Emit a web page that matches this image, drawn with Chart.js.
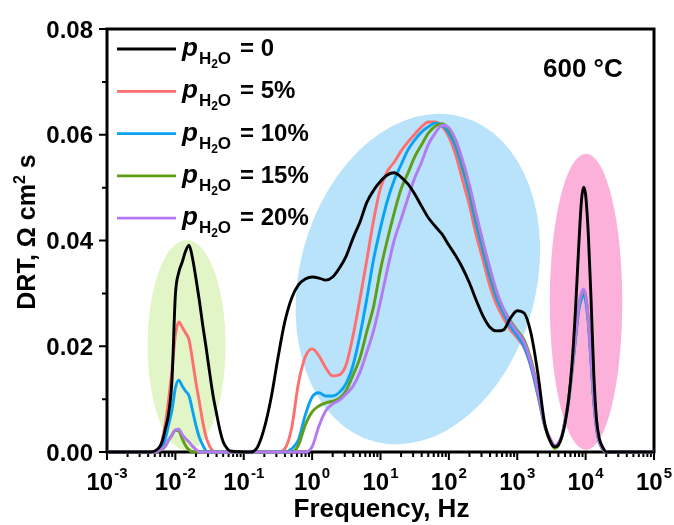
<!DOCTYPE html>
<html>
<head>
<meta charset="utf-8">
<script src="https://cdn.jsdelivr.net/npm/chart.js@4/dist/chart.umd.min.js"></script>
<style>
  html, body { margin: 0; padding: 0; background: #fff; }
  #wrap { width: 674px; height: 525px; }
</style>
</head>
<body>
<div id="wrap"><canvas id="c" width="674" height="525"></canvas></div>
<script>
// log10 of frequency (Hz) for every sample of the DRT curves
const logFreq = [
  -3, -2.4,
  -2.3, -2.2, -2.15, -2.1, -2.05, -2.0, -1.95, -1.9, -1.85, -1.8, -1.75, -1.7, -1.65, -1.6, -1.55, -1.5, -1.45, -1.4, -1.35, -1.3, -1.25, -1.2,
  -0.9, -0.8, -0.7, -0.6, -0.5, -0.4, -0.3, -0.2, -0.1,
  0, 0.1, 0.2, 0.3, 0.4, 0.5, 0.6, 0.7, 0.8, 0.9, 1.0, 1.1, 1.2, 1.3, 1.4, 1.5, 1.6, 1.7, 1.8, 1.9,
  2.0, 2.1, 2.2, 2.3, 2.4, 2.5, 2.6, 2.7, 2.8, 2.9, 3.0, 3.1, 3.2, 3.3, 3.4, 3.5,
  3.55, 3.6, 3.65, 3.7, 3.75, 3.8, 3.85, 3.9, 3.94, 3.97, 4.0, 4.04, 4.08, 4.12, 4.16, 4.2, 4.25, 4.3, 5
];

// DRT (Ω cm² s) at 600 °C for each water partial pressure
const drtH2O0 = [
  0, 0,
  0.0002, 0.0017, 0.0042, 0.0072, 0.0135, 0.0297, 0.0340, 0.0359, 0.0380, 0.0391, 0.0367, 0.0329, 0.0287, 0.0240, 0.0197, 0.0151, 0.0108, 0.0074, 0.0042, 0.0019, 0.0008, 0.0002,
  0, 0.0009, 0.0045, 0.0102, 0.0178, 0.0246, 0.0291, 0.0316, 0.0327,
  0.0331, 0.0329, 0.0325, 0.0331, 0.0348, 0.0371, 0.0405, 0.0435, 0.0472, 0.0495, 0.0512, 0.0524, 0.0528, 0.0520, 0.0507, 0.0488, 0.0465, 0.0443, 0.0427, 0.0412,
  0.0391, 0.0371, 0.0348, 0.0320, 0.0287, 0.0257, 0.0236, 0.0229, 0.0231, 0.0253, 0.0267, 0.0263, 0.0225, 0.0150, 0.0055, 0.0016,
  0.0010, 0.0013, 0.0028, 0.0055, 0.0098, 0.0165, 0.0265, 0.0391, 0.0477, 0.0501, 0.0486, 0.0410, 0.0287, 0.0146, 0.0061, 0.0026, 0.0009, 0, 0
];
const drtH2O5 = [
  0, 0,
  0, 0.0019, 0.0051, 0.0098, 0.0155, 0.0221, 0.0246, 0.0236, 0.0225, 0.0212, 0.0174, 0.0132, 0.0095, 0.0057, 0.0028, 0.0011, 0.0002, 0, 0, 0, 0, 0,
  0, 0, 0, 0, 0, 0.0006, 0.0045, 0.0130, 0.0180,
  0.0195, 0.0182, 0.0159, 0.0144, 0.0146, 0.0166, 0.0221, 0.0290, 0.0363, 0.0439, 0.0499, 0.0531, 0.0548, 0.0569, 0.0586, 0.0601, 0.0615, 0.0624, 0.0624, 0.0616,
  0.0596, 0.0562, 0.0514, 0.0467, 0.0410, 0.0363, 0.0314, 0.0278, 0.0253, 0.0231, 0.0216, 0.0197, 0.0161, 0.0108, 0.0051, 0.0020,
  0.0012, 0.0016, 0.0030, 0.0061, 0.0098, 0.0155, 0.0215, 0.0274, 0.0296, 0.0302, 0.0291, 0.0247, 0.0172, 0.0097, 0.0045, 0.0019, 0.0006, 0, 0
];
const drtH2O10 = [
  0, 0,
  0, 0.0009, 0.0023, 0.0051, 0.0079, 0.0121, 0.0136, 0.0125, 0.0115, 0.0106, 0.0079, 0.0051, 0.0028, 0.0013, 0.0002, 0, 0, 0, 0, 0, 0, 0,
  0, 0, 0, 0, 0, 0, 0.0006, 0.0023, 0.0070,
  0.0104, 0.0112, 0.0106, 0.0106, 0.0113, 0.0130, 0.0165, 0.0221, 0.0290, 0.0365, 0.0424, 0.0475, 0.0514, 0.0543, 0.0571, 0.0590, 0.0605, 0.0615, 0.0622, 0.0618,
  0.0603, 0.0577, 0.0535, 0.0487, 0.0430, 0.0380, 0.0331, 0.0290, 0.0262, 0.0238, 0.0220, 0.0200, 0.0163, 0.0110, 0.0050, 0.0018,
  0.0010, 0.0014, 0.0028, 0.0058, 0.0095, 0.0150, 0.0210, 0.0268, 0.0290, 0.0296, 0.0286, 0.0242, 0.0168, 0.0094, 0.0043, 0.0018, 0.0006, 0, 0
];
const drtH2O15 = [
  0, 0,
  0, 0.0005, 0.0010, 0.0022, 0.0032, 0.0041, 0.0040, 0.0025, 0.0012, 0.0004, 0, 0, 0, 0, 0, 0, 0, 0, 0, 0, 0, 0,
  0, 0, 0, 0, 0, 0, 0, 0.0013, 0.0051,
  0.0076, 0.0087, 0.0093, 0.0096, 0.0102, 0.0117, 0.0146, 0.0178, 0.0228, 0.0276, 0.0345, 0.0401, 0.0452, 0.0497, 0.0527, 0.0558, 0.0581, 0.0603, 0.0616, 0.0621,
  0.0610, 0.0588, 0.0548, 0.0500, 0.0445, 0.0393, 0.0344, 0.0300, 0.0270, 0.0248, 0.0230, 0.0212, 0.0175, 0.0120, 0.0050, 0.0015,
  0.0007, 0.0012, 0.0027, 0.0060, 0.0097, 0.0154, 0.0216, 0.0276, 0.0299, 0.0305, 0.0294, 0.0249, 0.0173, 0.0097, 0.0045, 0.0019, 0.0006, 0, 0
];
const drtH2O20 = [
  0, 0,
  0, 0.0006, 0.0011, 0.0023, 0.0032, 0.0042, 0.0043, 0.0033, 0.0025, 0.0019, 0.0011, 0.0005, 0, 0, 0, 0, 0, 0, 0, 0, 0, 0,
  0, 0, 0, 0, 0, 0, 0, 0, 0,
  0.0010, 0.0049, 0.0078, 0.0091, 0.0098, 0.0110, 0.0125, 0.0151, 0.0189, 0.0230, 0.0285, 0.0345, 0.0400, 0.0440, 0.0480, 0.0518, 0.0548, 0.0582, 0.0603, 0.0618,
  0.0613, 0.0590, 0.0552, 0.0505, 0.0450, 0.0397, 0.0348, 0.0303, 0.0270, 0.0246, 0.0227, 0.0208, 0.0170, 0.0117, 0.0051, 0.0021,
  0.0013, 0.0017, 0.0030, 0.0061, 0.0098, 0.0155, 0.0217, 0.0278, 0.0301, 0.0308, 0.0296, 0.0250, 0.0174, 0.0098, 0.0045, 0.0019, 0.0006, 0, 0
];

const seriesLabels = ['0', '5%', '10%', '15%', '20%'];
const seriesValues = [drtH2O0, drtH2O5, drtH2O10, drtH2O15, drtH2O20];
const seriesColors = ['#000000', '#ff6f6f', '#0aa2f2', '#5f9e16', '#b47af2'];
// lower number is painted later (on top)
const seriesOrder = [0, 4, 3, 2, 1];

const yTickValues = [0, 0.02, 0.04, 0.06, 0.08];
const xTickExponents = [-3, -2, -1, 0, 1, 2, 3, 4, 5];

// shaded process regions: centre (log10 f, DRT), half-widths (decades, DRT), tilt in degrees
const regions = [
  { logF: -1.836, drt: 0.0202, halfDecades: 0.57, halfDrt: 0.0199, tilt: 0, color: '#e2f5c6' },
  { logF: 1.546, drt: 0.0327, halfDecades: 1.73, halfDrt: 0.0318, tilt: 15, color: '#b8e3fa' },
  { logF: 4.006, drt: 0.0284, halfDecades: 0.53, halfDrt: 0.0280, tilt: 0, color: '#fbb1da' }
];

const FONT = '"Liberation Sans", Arial, Helvetica, sans-serif';

const decorations = {
  id: 'decorations',
  beforeDatasetsDraw(chart) {
    const { ctx, chartArea: a, scales: { x, y } } = chart;
    ctx.save();
    // highlight ellipses
    for (const r of regions) {
      const cx = x.getPixelForValue(Math.pow(10, r.logF));
      const cy = y.getPixelForValue(r.drt);
      const rx = x.getPixelForValue(Math.pow(10, r.logF + r.halfDecades)) - cx;
      const ry = cy - y.getPixelForValue(r.drt + r.halfDrt);
      ctx.beginPath();
      ctx.ellipse(cx, cy, rx, ry, r.tilt * Math.PI / 180, 0, Math.PI * 2);
      ctx.fillStyle = r.color;
      ctx.fill();
    }
    // frame
    ctx.strokeStyle = '#000';
    ctx.lineWidth = 3;
    ctx.strokeRect(a.left, a.top, a.right - a.left, a.bottom - a.top);

    // y ticks (major + minor), outward
    ctx.lineWidth = 2;
    ctx.beginPath();
    for (let i = 0; i < yTickValues.length; i++) {
      const py = y.getPixelForValue(yTickValues[i]);
      ctx.moveTo(a.left - 8, py); ctx.lineTo(a.left, py);
      if (i < yTickValues.length - 1) {
        const pm = y.getPixelForValue((yTickValues[i] + yTickValues[i + 1]) / 2);
        ctx.moveTo(a.left - 5, pm); ctx.lineTo(a.left, pm);
      }
    }
    // x ticks: decades + minor 2..9
    for (const e of xTickExponents) {
      const px = x.getPixelForValue(Math.pow(10, e));
      ctx.moveTo(px, a.bottom); ctx.lineTo(px, a.bottom + 8);
      if (e < xTickExponents[xTickExponents.length - 1]) {
        for (let k = 2; k <= 9; k++) {
          const pm = x.getPixelForValue(k * Math.pow(10, e));
          ctx.moveTo(pm, a.bottom); ctx.lineTo(pm, a.bottom + 5);
        }
      }
    }
    ctx.stroke();
    ctx.restore();
  },
  afterDraw(chart) {
    const { ctx, chartArea: a, scales: { x, y } } = chart;
    ctx.save();
    ctx.fillStyle = '#000';
    ctx.textBaseline = 'alphabetic';

    // y tick labels
    ctx.font = 'bold 24px ' + FONT;
    ctx.textAlign = 'right';
    for (const v of yTickValues) {
      ctx.fillText(v.toFixed(2), a.left - 14, y.getPixelForValue(v) + 8.5);
    }

    // x tick labels: 10 with superscript exponent
    ctx.textAlign = 'left';
    for (const e of xTickExponents) {
      const px = x.getPixelForValue(Math.pow(10, e));
      ctx.font = 'bold 24px ' + FONT;
      const wBase = ctx.measureText('10').width;
      ctx.font = 'bold 15px ' + FONT;
      const expText = String(e);
      const wExp = ctx.measureText(expText).width;
      const start = px - (wBase + wExp + 1) / 2;
      ctx.font = 'bold 24px ' + FONT;
      ctx.fillText('10', start, a.bottom + 38);
      ctx.font = 'bold 15px ' + FONT;
      ctx.fillText(expText, start + wBase + 1, a.bottom + 26);
    }

    // x axis title
    ctx.font = 'bold 26px ' + FONT;
    ctx.textAlign = 'center';
    ctx.fillText('Frequency, Hz', (a.left + a.right) / 2 + 1, 517);

    // y axis title, rotated
    ctx.save();
    ctx.translate(35, 232);
    ctx.rotate(-Math.PI / 2);
    const big = 'bold 25px ' + FONT, sup = 'bold 16px ' + FONT;
    const parts = [['DRT, Ω cm', big, 0], ['2', sup, -10], [' s', big, 0]];
    let total = 0;
    for (const p of parts) { ctx.font = p[1]; total += ctx.measureText(p[0]).width; }
    let cx = -total / 2;
    ctx.textAlign = 'left';
    for (const p of parts) {
      ctx.font = p[1];
      ctx.fillText(p[0], cx, p[2]);
      cx += ctx.measureText(p[0]).width;
    }
    ctx.restore();

    // temperature label
    ctx.font = 'bold 26px ' + FONT;
    ctx.textAlign = 'left';
    ctx.fillText('600 °C', 543, 77);

    // legend
    for (let i = 0; i < seriesLabels.length; i++) {
      const ly = 49 + i * 42.3;
      ctx.strokeStyle = seriesColors[i];
      ctx.lineWidth = 2.8;
      ctx.beginPath();
      ctx.moveTo(117, ly); ctx.lineTo(176, ly);
      ctx.stroke();
      let tx = 182;
      ctx.textAlign = 'left';
      ctx.font = 'italic bold 26px ' + FONT;
      ctx.fillText('p', tx, ly + 7);
      tx += ctx.measureText('p').width + 1;
      ctx.font = 'bold 17px ' + FONT;
      ctx.fillText('H', tx, ly + 15);
      tx += ctx.measureText('H').width;
      ctx.font = 'bold 12px ' + FONT;
      ctx.fillText('2', tx, ly + 19);
      tx += ctx.measureText('2').width;
      ctx.font = 'bold 17px ' + FONT;
      ctx.fillText('O', tx, ly + 15);
      tx += ctx.measureText('O').width + 9;
      ctx.font = 'bold 24px ' + FONT;
      ctx.fillText('= ' + seriesLabels[i], tx, ly + 7);
    }
    ctx.restore();
  }
};

const datasets = seriesValues.map((vals, i) => ({
  label: 'pH2O = ' + seriesLabels[i],
  data: logFreq.map((L, j) => ({ x: Math.pow(10, L), y: vals[j] })),
  borderColor: seriesColors[i],
  backgroundColor: seriesColors[i],
  borderWidth: 2.9,
  pointRadius: 0,
  cubicInterpolationMode: 'monotone',
  fill: false,
  clip: false,
  order: seriesOrder[i]
}));

new Chart(document.getElementById('c'), {
  type: 'line',
  data: { datasets },
  options: {
    responsive: false,
    animation: false,
    devicePixelRatio: 1,
    layout: { padding: { left: 107, top: 29, right: 20, bottom: 73 } },
    plugins: { legend: { display: false }, tooltip: { enabled: false } },
    scales: {
      x: { type: 'logarithmic', min: 1e-3, max: 1e5, display: false },
      y: { type: 'linear', min: 0, max: 0.08, display: false }
    }
  },
  plugins: [decorations]
});
</script>
</body>
</html>
